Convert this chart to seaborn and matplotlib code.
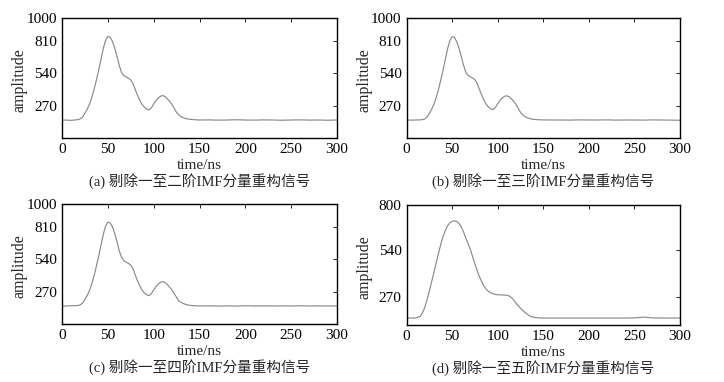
import matplotlib
matplotlib.use("Agg")
import matplotlib.pyplot as plt
import seaborn as sns
import numpy as np
import pandas as pd

# time axis (ns) shared by all four panels: fine steps over the pulse, coarse on the tail
time_ns = [0, 5, 10, 15, 17.5, 20, 22.5, 25, 27.5, 30, 32.5, 35, 37.5, 40, 42.5, 45, 47.5,
           50, 52.5, 55, 57.5, 60, 62.5, 65, 67.5, 70, 72.5, 75, 77.5, 80, 82.5, 85, 87.5,
           90, 92.5, 95, 97.5, 100, 102.5, 105, 107.5, 110, 112.5, 115, 117.5, 120, 122.5,
           125, 127.5, 130, 132.5, 135, 137.5, 140, 145,
           150, 160, 170, 180, 190, 200, 210, 220, 230, 240, 250, 260, 270, 280, 290, 300]

# reconstructed signals, values
sig_a = [150, 149, 147, 151, 153, 160, 176, 205, 240, 282, 338, 405, 482, 565, 655, 745, 812,
         846, 840, 806, 750, 680, 605, 545, 520, 508, 498, 484, 452, 402, 354, 312, 278,
         256, 240, 234, 252, 284, 311, 333, 348, 354, 345, 326, 304, 280, 246,
         213, 191, 177, 168, 162, 158, 156, 152,
         150, 151, 149, 150, 152, 150, 149, 151, 150, 148, 150, 151, 149, 150, 148, 150]
sig_b = [150, 149, 150, 151, 153, 158, 174, 203, 238, 280, 335, 402, 480, 562, 652, 742, 810,
         844, 838, 804, 752, 682, 608, 550, 522, 510, 500, 486, 455, 405, 357, 314, 280,
         258, 242, 237, 254, 286, 313, 334, 347, 352, 344, 327, 306, 282, 248,
         215, 192, 178, 168, 162, 157, 155, 152,
         151, 150, 150, 149, 151, 150, 150, 151, 149, 150, 150, 149, 151, 150, 149, 148]
sig_c = [150, 150, 152, 153, 154, 160, 176, 204, 238, 280, 336, 402, 482, 565, 655, 746, 815,
         849, 842, 810, 755, 685, 610, 555, 527, 515, 505, 490, 458, 406, 358, 316, 281,
         258, 242, 237, 253, 284, 312, 333, 348, 353, 345, 328, 306, 283, 252,
         222, 192, 180, 170, 163, 158, 155, 152,
         151, 151, 150, 151, 150, 152, 150, 151, 150, 151, 150, 152, 150, 151, 150, 151]
sig_d = [150, 150, 150, 160, 180, 210, 255, 305, 358, 410, 466, 520, 572, 618, 652, 680, 698,
         706, 709, 706, 695, 676, 646, 610, 578, 545, 503, 462, 423, 388, 358, 333, 316,
         303, 294, 289, 286, 284, 283, 283, 282, 281, 277, 268, 254, 236, 221,
         207, 194, 182, 172, 163, 157, 154, 151,
         150, 150, 150, 150, 150, 150, 150, 150, 150, 150, 151, 155, 151, 150, 150, 150]

signals = [sig_a, sig_b, sig_c, sig_d]
captions = ["(a) 剔除一至二阶IMF分量重构信号", "(b) 剔除一至三阶IMF分量重构信号",
            "(c) 剔除一至四阶IMF分量重构信号", "(d) 剔除一至五阶IMF分量重构信号"]
y_ticks = [[270, 540, 810, 1000], [270, 540, 810, 1000],
           [270, 540, 810, 1000], [270, 540, 800]]
y_limits = [(0, 1000), (0, 1000), (0, 1000), (110, 800)]
x_ticks = [0, 50, 100, 150, 200, 250, 300]

sns.set_style("white")
plt.rcParams['font.family'] = ['Liberation Serif', 'Noto Sans CJK SC']

W, H = 724, 382
fig = plt.figure(figsize=(W / 100, H / 100), dpi=100)

# axes boxes in pixels: left, top, right, bottom
boxes = [(62, 18, 337, 138), (406.5, 18, 680, 138),
         (62, 204, 337, 324), (406.5, 205, 680, 325)]

for i, (l, t, r, b) in enumerate(boxes):
    ax = fig.add_axes([l / W, 1 - b / H, (r - l) / W, (b - t) / H])
    df = pd.DataFrame({'time': time_ns, 'amp': signals[i]})
    sns.lineplot(data=df, x='time', y='amp', ax=ax, color='#8a8a8a', linewidth=0.85)
    ax.set_xlim(0, 300)
    ax.set_ylim(*y_limits[i])
    ax.set_xticks(x_ticks)
    ax.set_yticks(y_ticks[i])
    ax.tick_params(direction='in', length=3, width=0.6, top=True, right=True,
                   labelsize=11, pad=3.5, colors='black')
    for s in ax.spines.values():
        s.set_color('black')
        s.set_linewidth(1.0)
    ax.set_xlabel('time/ns', fontsize=11, labelpad=2)
    ax.set_ylabel('amplitude', fontsize=11.5)
    ax.yaxis.set_label_coords(-34 / (r - l), 0.48)
    fig.text((l + r) / 2 / W, 1 - (b + 43) / H, captions[i], ha='center', va='center',
             fontsize=10.5)

fig.savefig('out.png', dpi=100)
